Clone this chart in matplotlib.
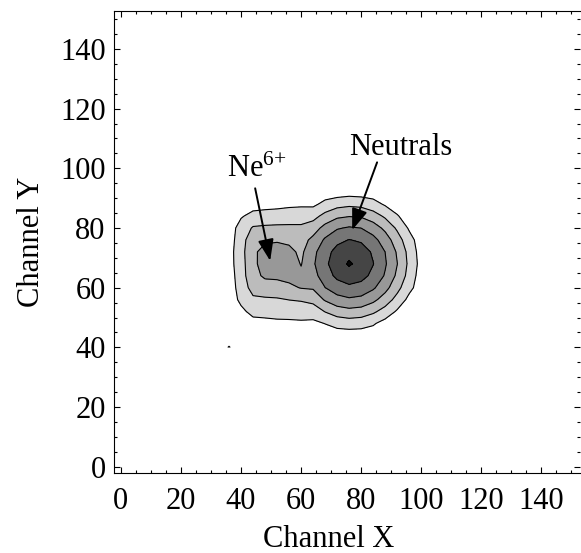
import numpy as np
import matplotlib
matplotlib.use('Agg')
import matplotlib.pyplot as plt

plt.rcParams['font.family'] = ['Liberation Serif', 'DejaVu Serif']
plt.rcParams['mathtext.fontset'] = 'custom'
plt.rcParams['mathtext.rm'] = 'Liberation Serif'
plt.rcParams['mathtext.default'] = 'regular'

# channel grid (4-channel bins)
x_channels = [32, 36, 40, 44, 48, 52, 56, 60, 64, 68, 72, 76, 80, 84, 88, 92, 96, 100, 104]
y_channels = [96, 92, 88, 84, 80, 76, 72, 68, 64, 60, 56, 52, 48, 44, 40]

# contour level of each bin (estimated), top row = y 96
counts = [
    [0, 0, 0, 0, 0, 0, 0, 0, 0, 0, 0, 0, 0, 0, 0, 0, 0, 0, 0],
    [0, 0, 0, 0, 0, 0, 0, 0, 0, 0, 0, 0.1, 0.05, 0, 0, 0, 0, 0, 0],
    [0, 0, 0, 0.1, 0.15, 0.2, 0.3, 0.35, 0.3, 0.77, 1.13, 1.27, 1.18, 0.87, 0.37, 0, 0, 0, 0],
    [0, 0, 0.4, 0.8, 0.9, 0.95, 1.0, 1.0, 1.15, 1.82, 2.3, 2.45, 2.38, 1.96, 1.33, 0.58, 0, 0, 0],
    [0, 0, 0.9, 1.6, 1.67, 1.7, 1.7, 1.7, 2.03, 2.84, 3.4, 3.61, 3.49, 3.0, 2.26, 1.33, 0.37, 0, 0],
    [0, 0, 1.1, 2.1, 2.33, 2.4, 2.3, 2.1, 2.76, 3.65, 4.26, 4.53, 4.37, 3.82, 3.0, 1.96, 0.87, 0, 0],
    [0, 0.1, 1.15, 2.3, 2.85, 2.9, 2.75, 2.3, 3.22, 4.15, 4.82, 5.17, 4.94, 4.37, 3.49, 2.38, 1.18, 0.05, 0],
    [0, 0.1, 1.1, 2.25, 2.95, 3.15, 3.0, 2.45, 3.36, 4.31, 5.01, 5.63, 5.17, 4.53, 3.61, 2.52, 1.27, 0.13, 0],
    [0, 0, 1.05, 2.2, 2.66, 2.7, 2.8, 2.7, 3.13, 4.05, 4.72, 5.01, 4.82, 4.26, 3.4, 2.3, 1.13, 0, 0],
    [0, 0, 0.9, 1.9, 2.05, 2.1, 2.3, 2.55, 2.61, 3.49, 4.05, 4.31, 4.15, 3.65, 2.84, 1.82, 0.77, 0, 0],
    [0, 0, 0.7, 1.3, 1.36, 1.4, 1.52, 1.6, 1.82, 2.61, 3.13, 3.35, 3.22, 2.76, 2.03, 1.15, 0.23, 0, 0],
    [0, 0, 0.3, 0.75, 0.79, 0.85, 0.9, 0.9, 0.93, 1.54, 2.0, 2.18, 2.07, 1.68, 1.1, 0.37, 0, 0, 0],
    [0, 0, 0, 0.2, 0.25, 0.3, 0.3, 0.35, 0.3, 0.52, 0.85, 0.98, 0.9, 0.61, 0.13, 0, 0, 0, 0],
    [0, 0, 0, 0, 0, 0, 0, 0, 0, 0, 0, 0, 0, 0, 0, 0, 0, 0, 0],
    [0, 0.55, 0, 0, 0, 0, 0, 0, 0, 0, 0, 0, 0, 0, 0, 0, 0, 0, 0],
]

levels = [0.5, 1.5, 2.5, 3.5, 4.5, 5.5, 7]
fill_colors = ['#d8d8d8', '#bcbcbc', '#989898', '#767676', '#454545', '#080808']

fig = plt.figure(figsize=(5.81, 5.53), dpi=100)
ax = fig.add_axes([0.1962, 0.1447, 0.8028, 0.8353])

ax.contourf(x_channels, y_channels, counts, levels=levels, colors=fill_colors)
ax.contour(x_channels, y_channels, counts, levels=levels[:-1], colors='k', linewidths=0.8)

# annotations
arrow = dict(arrowstyle='-|>,head_length=0.65,head_width=0.24', mutation_scale=20,
             color='k', lw=1.4, shrinkA=0, shrinkB=0)
ax.annotate('', xy=(49.7, 69), xytext=(44.7, 93.3), arrowprops=arrow)
ax.annotate('', xy=(77, 79.3), xytext=(85.3, 102), arrowprops=arrow)
ax.text(35.3, 97, 'Ne$^{6{+}}$', fontsize=22, ha='left', va='baseline')
ax.text(93.3, 104.4, 'Neutrals', fontsize=22, ha='center', va='baseline')

ax.set_xlim(-2.3, 153)
ax.set_ylim(-2.1, 152.7)
ax.set_xticks([0, 20, 40, 60, 80, 100, 120, 140])
ax.set_yticks([0, 20, 40, 60, 80, 100, 120, 140])
ax.set_xticks(np.arange(0, 151, 5), minor=True)
ax.set_yticks(np.arange(0, 151, 5), minor=True)
ax.tick_params(which='both', direction='in', top=True, right=True, labelsize=22, width=0.8)
ax.tick_params(which='major', length=4)
ax.tick_params(which='minor', length=2.2)
ax.tick_params(axis='x', pad=10)
ax.tick_params(axis='y', pad=6)
ax.spines['right'].set_visible(False)

ax.set_xlabel('Channel X', fontsize=22)
ax.set_ylabel('Channel Y', fontsize=22)
ax.xaxis.set_label_coords(0.46, -0.112)
ax.yaxis.set_label_coords(-0.146, 0.5)

fig.savefig('out.png', dpi=100)
